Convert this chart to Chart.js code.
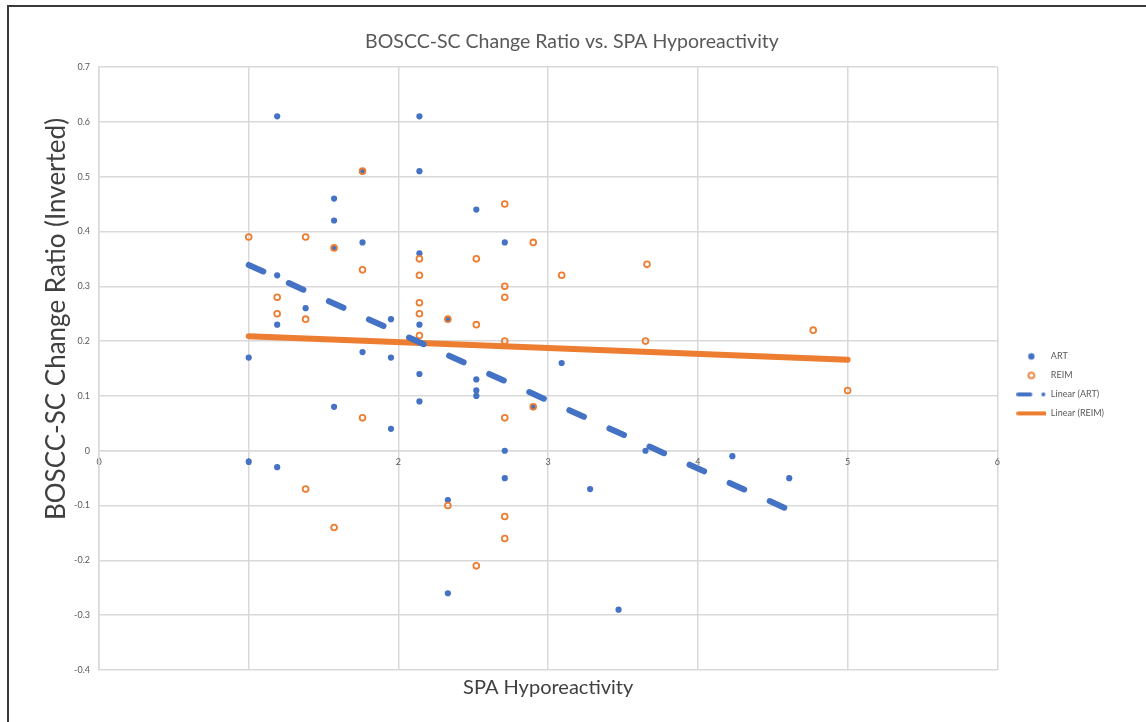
<!DOCTYPE html>
<html>
<head>
<meta charset="utf-8">
<script src="https://cdn.jsdelivr.net/npm/chart.js@4.4.1/dist/chart.umd.min.js"></script>
<style>
  html, body { margin: 0; padding: 0; background: #fff; }
  #wrap { position: relative; width: 1146px; height: 722px; overflow: hidden; }
  #frame { position: absolute; left: 7px; top: 5px; width: 1150px; height: 730px; border: 2px solid #3a3a3a; box-sizing: border-box; pointer-events: none; }
  canvas { position: absolute; left: 0; top: 0; }
</style>
</head>
<body>
<div id="wrap">
  <canvas id="chart" width="1146" height="722"></canvas>
  <div id="frame"></div>
</div>
<script>
// ART points
const artX = [1.19, 2.14, 1.76, 2.14, 1.57, 2.52, 1.57, 1.57, 1.76, 2.71, 2.14, 1.19, 1.38, 1.19, 1.95, 2.14, 2.33,
              1.00, 1.76, 1.95, 3.09, 2.14, 2.52, 2.52, 2.52, 1.57, 2.14, 2.90, 1.95, 2.71, 3.65, 1.00, 1.19, 4.23,
              2.71, 4.61, 3.28, 2.33, 2.33, 3.47];
const artY = [0.61, 0.61, 0.51, 0.51, 0.46, 0.44, 0.42, 0.37, 0.38, 0.38, 0.36, 0.32, 0.26, 0.23, 0.24, 0.23, 0.24,
              0.17, 0.18, 0.17, 0.16, 0.14, 0.13, 0.11, 0.10, 0.08, 0.09, 0.08, 0.04, 0.00, 0.00, -0.02, -0.03, -0.01,
              -0.05, -0.05, -0.07, -0.09, -0.26, -0.29];

// REIM points
const reimX = [1.00, 1.38, 1.76, 1.57, 2.14, 1.76, 2.14, 1.19, 1.19, 1.38, 2.14, 2.14, 2.14, 1.76, 1.38, 1.57,
               2.71, 2.90, 2.52, 3.09, 2.71, 2.71, 2.33, 2.52, 2.71, 2.90, 2.71, 2.33, 2.71, 2.71, 2.52, 3.66,
               3.65, 4.77, 5.00];
const reimY = [0.39, 0.39, 0.51, 0.37, 0.35, 0.33, 0.32, 0.28, 0.25, 0.24, 0.27, 0.25, 0.21, 0.06, -0.07, -0.14,
               0.45, 0.38, 0.35, 0.32, 0.30, 0.28, 0.24, 0.23, 0.20, 0.08, 0.06, -0.10, -0.12, -0.16, -0.21, 0.34,
               0.20, 0.22, 0.11];

// trendline end points
const artTrendX = [1.00, 4.61];
const artTrendY = [0.339, -0.108];
const reimTrendX = [1.00, 5.00];
const reimTrendY = [0.209, 0.166];

const blue = '#4472C4';
const orange = '#ED7D31';
const gridColor = '#d9d9d9';
const font = 'Lato, "Open Sans", sans-serif';
const yTitleText = 'BOSCC-SC Change Ratio (Inverted)';

function toPoints(xs, ys) {
    return xs.map((x, i) => ({ x: x, y: ys[i] }));
}

// little legend markers, Excel style
function marker(kind) {
    const c = document.createElement('canvas');
    c.width = 30;
    c.height = 10;
    const g = c.getContext('2d');
    g.lineCap = 'round';
    if (kind === 'art') {
        g.fillStyle = blue;
        g.beginPath(); g.arc(15, 5, 3.2, 0, Math.PI * 2); g.fill();
    } else if (kind === 'reim') {
        g.strokeStyle = orange; g.lineWidth = 1.8;
        g.beginPath(); g.arc(15, 5, 2.9, 0, Math.PI * 2); g.stroke();
    } else if (kind === 'artLine') {
        g.strokeStyle = blue; g.lineWidth = 4;
        g.beginPath(); g.moveTo(2, 5); g.lineTo(14, 5); g.stroke();
        g.fillStyle = blue;
        g.beginPath(); g.arc(27, 5, 2, 0, Math.PI * 2); g.fill();
    } else {
        g.strokeStyle = orange; g.lineWidth = 4;
        g.beginPath(); g.moveTo(2, 5); g.lineTo(29, 5); g.stroke();
    }
    return c;
}
const legendMarkers = [marker('art'), marker('reim'), marker('artLine'), marker('reimLine')];

// y axis title, sits a bit above the middle like in the original
const yTitlePlugin = {
    id: 'yTitle',
    afterDraw(chart) {
        const ctx = chart.ctx;
        ctx.save();
        ctx.translate(57, 319);
        ctx.rotate(-Math.PI / 2);
        ctx.font = '26px ' + font;
        ctx.fillStyle = '#404040';
        ctx.textAlign = 'center';
        ctx.textBaseline = 'middle';
        ctx.fillText(yTitleText, 0, 0);
        ctx.restore();
    }
};

new Chart(document.getElementById('chart'), {
    type: 'scatter',
    data: {
        datasets: [
            {
                label: 'ART',
                data: toPoints(artX, artY),
                pointStyle: 'circle',
                pointRadius: 3.1,
                backgroundColor: blue,
                borderColor: blue,
                borderWidth: 0,
                order: 2
            },
            {
                label: 'REIM',
                data: toPoints(reimX, reimY),
                pointStyle: 'circle',
                pointRadius: 2.9,
                backgroundColor: 'rgba(0,0,0,0)',
                borderColor: orange,
                borderWidth: 1.8,
                order: 1
            },
            {
                label: 'Linear (ART)',
                type: 'line',
                data: toPoints(artTrendX, artTrendY),
                borderColor: blue,
                backgroundColor: blue,
                borderWidth: 6,
                borderDash: [16, 28],
                borderCapStyle: 'round',
                pointRadius: 0,
                fill: false,
                order: 0
            },
            {
                label: 'Linear (REIM)',
                type: 'line',
                data: toPoints(reimTrendX, reimTrendY),
                borderColor: orange,
                backgroundColor: orange,
                borderWidth: 6,
                borderCapStyle: 'round',
                pointRadius: 0,
                fill: false,
                order: 0
            }
        ]
    },
    plugins: [yTitlePlugin],
    options: {
        responsive: false,
        animation: false,
        layout: { padding: { top: 30, left: 30, right: 32, bottom: 22 } },
        plugins: {
            title: {
                display: true,
                text: 'BOSCC-SC Change Ratio vs. SPA Hyporeactivity',
                color: '#595959',
                font: { size: 19.5, family: font, weight: 'normal' },
                padding: { top: 0, bottom: 13.6 }
            },
            legend: {
                position: 'right',
                title: { display: true, text: ' ', font: { size: 9 }, padding: { top: 0, bottom: 29 } },
                labels: {
                    usePointStyle: true,
                    pointStyleWidth: 30,
                    boxHeight: 5,
                    padding: 10,
                    color: '#595959',
                    font: { size: 9, family: font },
                    sort: (a, b) => a.datasetIndex - b.datasetIndex,
                    generateLabels: function(chart) {
                        const items = Chart.defaults.plugins.legend.labels.generateLabels(chart);
                        items.forEach(item => {
                            item.pointStyle = legendMarkers[item.datasetIndex];
                            item.lineDash = [];
                        });
                        return items;
                    }
                }
            },
            tooltip: { enabled: false }
        },
        scales: {
            x: {
                type: 'linear',
                position: { y: 0 },
                min: 0,
                max: 6,
                ticks: {
                    stepSize: 1,
                    padding: 6,
                    color: '#595959',
                    font: { size: 9, family: font }
                },
                grid: { color: gridColor, lineWidth: 1.5, drawTicks: false },
                border: { color: gridColor, width: 1.5 }
            },
            xTitle: {
                type: 'linear',
                position: 'bottom',
                axis: 'x',
                min: 0,
                max: 6,
                ticks: { display: false },
                grid: { display: false, drawTicks: false },
                border: { display: false },
                title: {
                    display: true,
                    text: 'SPA Hyporeactivity',
                    color: '#404040',
                    font: { size: 20, family: font },
                    padding: { top: 6, bottom: 0 }
                }
            },
            y: {
                type: 'linear',
                min: -0.4,
                max: 0.7,
                ticks: {
                    stepSize: 0.1,
                    padding: 9,
                    color: '#595959',
                    font: { size: 9, family: font },
                    callback: v => String(Number(v.toFixed(1)))
                },
                grid: { color: gridColor, lineWidth: 1.5, drawTicks: false },
                border: { color: gridColor, width: 1.5 },
                // room for the title drawn by the plugin
                afterFit: s => { s.width = 69; }
            },
            // empty axis, only keeps a gap between plot and legend
            yGap: {
                type: 'linear',
                position: 'right',
                axis: 'y',
                ticks: { display: false },
                grid: { display: false, drawTicks: false },
                border: { display: false },
                afterFit: s => { s.width = 9; }
            }
        }
    }
});
</script>
</body>
</html>
